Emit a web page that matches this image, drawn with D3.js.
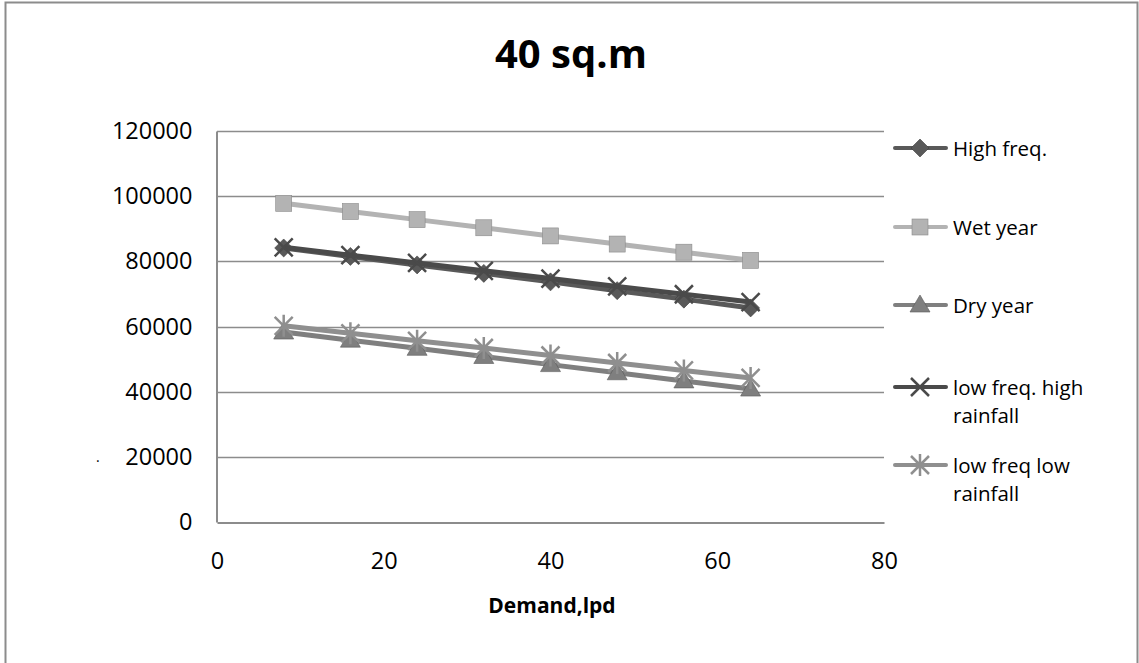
<!DOCTYPE html>
<html>
<head>
<meta charset="utf-8">
<script src="https://cdn.jsdelivr.net/npm/d3@7"></script>
<style>
  body { margin: 0; background: #fff; }
  text { font-family: "Open Sans", "Noto Sans", sans-serif; fill: #000; }
</style>
</head>
<body>
<div id="chart"></div>
<script>
// chart values
var demand = [8, 16, 24, 32, 40, 48, 56, 64];
var highFreq = [84100, 81500, 78900, 76300, 73700, 71000, 68400, 65700];
var wetYear = [97800, 95300, 92800, 90300, 87800, 85300, 82800, 80300];
var dryYear = [58300, 55800, 53300, 50800, 48300, 45800, 43300, 40800];
var lowFreqHigh = [84300, 81900, 79500, 77100, 74700, 72300, 69900, 67500];
var lowFreqLow = [60200, 57900, 55600, 53400, 51100, 48800, 46500, 44200];
var seriesNames = ["High freq.", "Wet year", "Dry year", "low freq. high rainfall", "low freq low rainfall"];
var xTicks = [0, 20, 40, 60, 80];
var yTicks = [0, 20000, 40000, 60000, 80000, 100000, 120000];

var W = 1139, H = 663;
var plot = { left: 217, right: 884, top: 131, bottom: 522 };

var svg = d3.select("#chart").append("svg")
    .attr("width", W)
    .attr("height", H);

// outer chart border (bottom runs off the picture)
svg.append("path")
    .attr("d", "M5.5," + H + "V2.5H1137.5V" + H)
    .attr("fill", "none")
    .attr("stroke", "#8c8c8c")
    .attr("stroke-width", 2);

var x = d3.scaleLinear().domain([0, 80]).range([plot.left, plot.right]);
var y = d3.scaleLinear().domain([0, 120000]).range([plot.bottom, plot.top]);

// gridlines
svg.append("g")
    .selectAll("line")
    .data(yTicks.slice(1))
    .enter()
    .append("line")
    .attr("x1", plot.left)
    .attr("x2", plot.right)
    .attr("y1", function (d) { return Math.round(y(d)) + 0.5; })
    .attr("y2", function (d) { return Math.round(y(d)) + 0.5; })
    .attr("stroke", "#8c8c8c")
    .attr("stroke-width", 1.5);

// axes
var xAxis = svg.append("g")
    .attr("transform", "translate(0," + (plot.bottom + 0.5) + ")")
    .call(d3.axisBottom(x).tickValues(xTicks).tickSize(0).tickPadding(30));
var yAxis = svg.append("g")
    .attr("transform", "translate(" + (plot.left - 0.5) + ",0)")
    .call(d3.axisLeft(y).tickValues(yTicks).tickSize(0).tickPadding(24).tickFormat(d3.format("d")));
[xAxis, yAxis].forEach(function (a) {
    a.select(".domain").attr("stroke", "#8c8c8c").attr("stroke-width", 2);
    a.selectAll("text").style("font-size", "23.5px").attr("fill", "#000");
});

// title and axis title
svg.append("text")
    .text("40 sq.m")
    .attr("x", 571)
    .attr("y", 68)
    .style("font-size", "40px")
    .style("font-weight", "bold")
    .style("text-anchor", "middle");

svg.append("text")
    .text("Demand,lpd")
    .attr("x", 552)
    .attr("y", 613)
    .style("font-size", "21px")
    .style("font-weight", "bold")
    .style("text-anchor", "middle");

// stray dot left of the axis
svg.append("text")
    .text(".")
    .attr("x", 96)
    .attr("y", 462)
    .style("font-size", "14px");

var series = [
    { name: seriesNames[0], values: highFreq, color: "#595959", marker: "diamond" },
    { name: seriesNames[1], values: wetYear, color: "#b3b3b3", marker: "square" },
    { name: seriesNames[2], values: dryYear, color: "#7f7f7f", marker: "triangle" },
    { name: seriesNames[3], values: lowFreqHigh, color: "#4a4a4a", marker: "x" },
    { name: seriesNames[4], values: lowFreqLow, color: "#8f8f8f", marker: "star" }
];

function drawMarker(g, kind, color, cx, cy) {
    if (kind === "diamond") {
        g.append("path")
            .attr("d", "M" + cx + "," + (cy - 9) + "L" + (cx + 9) + "," + cy + "L" + cx + "," + (cy + 9) + "L" + (cx - 9) + "," + cy + "Z")
            .attr("fill", color).attr("stroke", "#404040").attr("stroke-width", 0.6);
    } else if (kind === "square") {
        g.append("rect")
            .attr("x", cx - 8).attr("y", cy - 8).attr("width", 16).attr("height", 16)
            .attr("fill", color).attr("stroke", "#8a8a8a").attr("stroke-width", 0.6);
    } else if (kind === "triangle") {
        g.append("path")
            .attr("d", "M" + cx + "," + (cy - 10) + "L" + (cx + 10) + "," + (cy + 7) + "L" + (cx - 10) + "," + (cy + 7) + "Z")
            .attr("fill", color).attr("stroke", "#5a5a5a").attr("stroke-width", 0.6);
    } else if (kind === "x") {
        g.append("path")
            .attr("d", "M" + (cx - 9) + "," + (cy - 9) + "L" + (cx + 9) + "," + (cy + 9) + "M" + (cx + 9) + "," + (cy - 9) + "L" + (cx - 9) + "," + (cy + 9))
            .attr("stroke", color).attr("stroke-width", 2.5).attr("fill", "none");
    } else {
        g.append("path")
            .attr("d", "M" + (cx - 9) + "," + (cy - 9) + "L" + (cx + 9) + "," + (cy + 9) + "M" + (cx + 9) + "," + (cy - 9) + "L" + (cx - 9) + "," + (cy + 9) + "M" + cx + "," + (cy - 11) + "L" + cx + "," + (cy + 11))
            .attr("stroke", color).attr("stroke-width", 2.5).attr("fill", "none");
    }
}

var line = d3.line()
    .x(function (d, i) { return x(demand[i]); })
    .y(function (d) { return y(d); });

series.forEach(function (s) {
    var g = svg.append("g");
    g.append("path")
        .attr("d", line(s.values))
        .attr("fill", "none")
        .attr("stroke", s.color)
        .attr("stroke-width", 5)
        .attr("stroke-linejoin", "round");
    s.values.forEach(function (v, i) {
        drawMarker(g, s.marker, s.color, x(demand[i]), y(v));
    });
});

// legend
var legendY = [148, 227, 305, 387, 465];
series.forEach(function (s, i) {
    var g = svg.append("g");
    var ly = legendY[i];
    g.append("line")
        .attr("x1", 895).attr("x2", 946)
        .attr("y1", ly).attr("y2", ly)
        .attr("stroke", s.color).attr("stroke-width", 4)
        .attr("stroke-linecap", "round");
    drawMarker(g, s.marker, s.color, 920, ly);
    var words = s.name === seriesNames[3] ? ["low freq. high", "rainfall"]
        : s.name === seriesNames[4] ? ["low freq low", "rainfall"] : [s.name];
    words.forEach(function (w, j) {
        g.append("text")
            .text(w)
            .attr("x", 953)
            .attr("y", ly + 8 + j * 28)
            .style("font-size", "20.5px");
    });
});
</script>
</body>
</html>
